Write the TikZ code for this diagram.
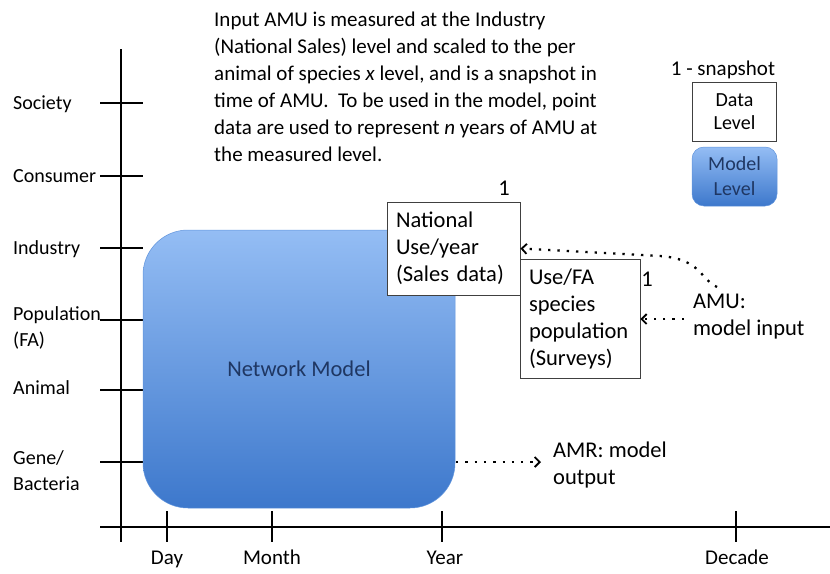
\documentclass[tikz,border=0pt]{standalone}
\usepackage{fontspec}
\setmainfont{Carlito}
\usetikzlibrary{arrows.meta}
\definecolor{mtop}{HTML}{94BDF4}
\definecolor{mbot}{HTML}{3D78CC}
\definecolor{mtext}{HTML}{1F3763}
\definecolor{boxline}{HTML}{404040}
\tikzset{
  axisline/.style={line width=2pt, black},
  lvllabel/.style={font=\fontsize{20}{26}\selectfont, align=left, inner sep=0pt},
  timelabel/.style={font=\fontsize{21}{26}\selectfont, inner sep=0pt, anchor=base},
  databox/.style={draw=boxline, line width=0.9pt, fill=white, align=left,
    font=\fontsize{22.5}{27}\selectfont, inner xsep=9pt, inner ysep=0pt},
  modelbox/.style={draw=mbot!60!mtop, line width=0.5pt, top color=mtop, bottom color=mbot,
    text=mtext, align=center},
  plaintext/.style={inner sep=0pt, align=left, font=\fontsize{22.5}{27}\selectfont},
  dotarrow/.style={line width=2.3pt, dash pattern=on 2.3pt off 7pt,
    -{Straight Barb[length=5pt, width=10pt, line width=1.8pt]}},
}
\begin{document}
\begin{tikzpicture}[x=1pt, y=-1pt]
\useasboundingbox (0,0) rectangle (830,573);

% axes
\draw[axisline] (121,49) -- (121,542);
\draw[axisline] (100,527) -- (830,527);

% level ticks and labels
\foreach \yy in {103,176,248,320,390,462}
  \draw[axisline] (100,\yy) -- (143,\yy);
\node[lvllabel, anchor=base west] (society) at (13,109.5) {Society};
\node[lvllabel, anchor=base west] (consumer) at (13,182) {Consumer};
\node[lvllabel, anchor=base west] (industry) at (13,254.5) {Industry};
\node[lvllabel, anchor=west] (population) at (13,327.5) {Population\\(FA)};
\node[lvllabel, anchor=base west] (animal) at (13,394.5) {Animal};
\node[lvllabel, anchor=west] (gene) at (13,471) {Gene/\\Bacteria};

% time ticks and labels
\foreach \xx in {167,272,442,736}
  \draw[axisline] (\xx,511) -- (\xx,542);
\node[timelabel] (day) at (167,564) {Day};
\node[timelabel] (month) at (272,564) {Month};
\node[timelabel] (year) at (445,564) {Year};
\node[timelabel] (decade) at (737,564) {Decade};

% explanatory paragraph
\node[inner sep=0pt, anchor=north west, align=left, font=\fontsize{21}{27}\selectfont] (note) at (214,12)
  {Input AMU is measured at the Industry\\
   (National Sales) level and scaled to the per\\
   animal of species \textit{x} level, and is a snapshot in\\
   time of AMU.\ \ To be used in the model, point\\
   data are used to represent \textit{n} years of AMU at\\
   the measured level.};

% network model
\node[modelbox, rounded corners=45pt, minimum width=312pt, minimum height=278pt,
  font=\fontsize{22.5}{27}\selectfont] (nm) at (299,369) {Network Model};

% data boxes
\node[databox, text width=115pt, minimum height=93pt] (natl) at (453.5,248.5)
  {National\\Use/year\\(Sales data)};
\node[databox, text width=102pt, minimum height=119pt] (usefa) at (580,318.5)
  {Use/FA\\species\\population\\(Surveys)};
\node[plaintext, anchor=base] (one1) at (504,195) {1};
\node[plaintext, anchor=base] (one2) at (647,286) {1};

% inputs and outputs
\node[plaintext, anchor=west] (amu) at (693,317) {AMU:\\model input};
\node[plaintext, anchor=west] (amr) at (553,465) {AMR: model\\output};
\coordinate (amuA) at (717,287);
\coordinate (amuB) at (684,319);
\coordinate (amrA) at (456,462);
\draw[dotarrow] (amuA) .. controls (700,279) and (701,259) .. (660,256) -- (natl.east);
\draw[dotarrow] (amuB) -- (usefa.east |- amuB);
\draw[dotarrow] (amrA) -- ([xshift=-12pt]amr.west |- amrA);

% legend
\node[plaintext, anchor=base, font=\fontsize{21}{26}\selectfont] (snap) at (723,75) {1 - snapshot};
\node[draw=boxline, line width=0.9pt, fill=white, align=center, minimum width=84pt,
  minimum height=59pt, inner sep=0pt, font=\fontsize{20}{23}\selectfont] (datalvl) at (734.5,111.5)
  {Data\\Level};
\node[modelbox, rounded corners=12pt, minimum width=85pt, minimum height=59pt, inner sep=0pt,
  font=\fontsize{20}{25}\selectfont] (modellvl) at (734.5,176.5) {Model\\Level};
\end{tikzpicture}
\end{document}
